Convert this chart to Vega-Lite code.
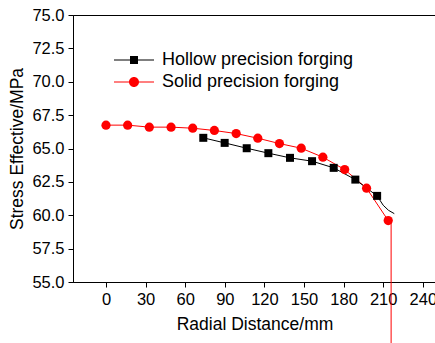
{
  "$schema": "https://vega.github.io/schema/vega-lite/v6.json",
  "autosize": {"type": "none"},
  "padding": {"left": 73, "top": 15, "right": 0, "bottom": 61},
  "width": 363,
  "height": 267,
  "background": "#ffffff",
  "config": {
    "font": "Liberation Sans",
    "view": {"stroke": "#000000", "strokeWidth": 1},
    "axis": {
      "grid": false,
      "domainColor": "#000000",
      "tickColor": "#000000",
      "labelColor": "#000000",
      "titleColor": "#000000",
      "labelFont": "Liberation Sans",
      "titleFont": "Liberation Sans",
      "labelFontSize": 16.5,
      "titleFontSize": 17.5,
      "titleFontWeight": "normal",
      "tickSize": 5,
      "labelPadding": 4
    }
  },
  "data": {
    "values": [
      {"series": "Solid precision forging", "x": 0, "y": 66.75, "measured": true},
      {"series": "Solid precision forging", "x": 16.4, "y": 66.75, "measured": true},
      {"series": "Solid precision forging", "x": 32.8, "y": 66.6, "measured": true},
      {"series": "Solid precision forging", "x": 49.3, "y": 66.6, "measured": true},
      {"series": "Solid precision forging", "x": 65.7, "y": 66.52, "measured": true},
      {"series": "Solid precision forging", "x": 82.1, "y": 66.35, "measured": true},
      {"series": "Solid precision forging", "x": 98.6, "y": 66.12, "measured": true},
      {"series": "Solid precision forging", "x": 115.0, "y": 65.77, "measured": true},
      {"series": "Solid precision forging", "x": 131.4, "y": 65.37, "measured": true},
      {"series": "Solid precision forging", "x": 147.9, "y": 65.02, "measured": true},
      {"series": "Solid precision forging", "x": 164.3, "y": 64.35, "measured": true},
      {"series": "Solid precision forging", "x": 180.8, "y": 63.42, "measured": true},
      {"series": "Solid precision forging", "x": 197.4, "y": 62.03, "measured": true},
      {"series": "Solid precision forging", "x": 213.8, "y": 59.6, "measured": true},
      {"series": "Solid precision forging", "x": 216.0, "y": 59.5, "measured": false},
      {"series": "Solid precision forging", "x": 216.0, "y": 45.0, "measured": false},
      {"series": "Hollow precision forging", "x": 73.7, "y": 65.8, "measured": true},
      {"series": "Hollow precision forging", "x": 89.9, "y": 65.42, "measured": true},
      {"series": "Hollow precision forging", "x": 106.6, "y": 65.02, "measured": true},
      {"series": "Hollow precision forging", "x": 123.0, "y": 64.65, "measured": true},
      {"series": "Hollow precision forging", "x": 139.4, "y": 64.3, "measured": true},
      {"series": "Hollow precision forging", "x": 156.1, "y": 64.05, "measured": true},
      {"series": "Hollow precision forging", "x": 172.5, "y": 63.55, "measured": true},
      {"series": "Hollow precision forging", "x": 188.9, "y": 62.67, "measured": true},
      {"series": "Hollow precision forging", "x": 205.4, "y": 61.45, "measured": true},
      {"series": "Hollow precision forging", "x": 210.0, "y": 60.75, "measured": false},
      {"series": "Hollow precision forging", "x": 214.0, "y": 60.37, "measured": false},
      {"series": "Hollow precision forging", "x": 218.4, "y": 60.12, "measured": false}
    ]
  },
  "encoding": {
    "x": {
      "field": "x",
      "type": "quantitative",
      "scale": {"domain": [-25, 250], "nice": false, "zero": false},
      "axis": {"values": [0, 30, 60, 90, 120, 150, 180, 210, 240], "title": "Radial Distance/mm", "titlePadding": 8}
    },
    "y": {
      "field": "y",
      "type": "quantitative",
      "scale": {"domain": [55, 75], "nice": false, "zero": false},
      "axis": {"values": [55, 57.5, 60, 62.5, 65, 67.5, 70, 72.5, 75], "format": ".1f", "title": "Stress Effective/MPa", "titlePadding": 5}
    }
  },
  "resolve": {"legend": {"color": "independent", "shape": "independent", "size": "independent"}},
  "layer": [
    {
      "mark": {"type": "line", "strokeWidth": 1, "interpolate": "linear"},
      "encoding": {
        "detail": {"field": "series"},
        "order": {"field": "x"},
        "color": {
          "field": "series",
          "type": "nominal",
          "scale": {"domain": ["Hollow precision forging", "Solid precision forging"], "range": ["#000000", "#ff0000"]},
          "legend": {
            "title": null,
            "orient": "none",
            "legendX": 51,
            "legendY": 35,
            "padding": 0,
            "symbolSize": 400,
            "labelFontSize": 18,
            "labelColor": "#000000",
            "labelOffset": 18,
            "labelLimit": 0,
            "rowPadding": 3,
            "symbolStrokeWidth": 0,
            "encode": {
              "symbols": {
                "update": {
                  "shape": [
                    {"test": "datum.value === 'Hollow precision forging'", "value": "M-2,-0.05H2V0.05H-2ZM-0.4,-0.4H0.4V0.4H-0.4Z"},
                    {"value": "M-2,-0.05H2V0.05H-2ZM-0.5,0A0.5,0.5,0,1,1,0.5,0A0.5,0.5,0,1,1,-0.5,0Z"}
                  ],
                  "fill": [
                    {"test": "datum.value === 'Hollow precision forging'", "value": "#000000"},
                    {"value": "#ff0000"}
                  ],
                  "fillOpacity": {"value": 1}
                }
              }
            }
          }
        }
      }
    },
    {
      "transform": [{"filter": "datum.measured"}],
      "mark": {"type": "point", "filled": true, "opacity": 1},
      "encoding": {
        "shape": {
          "field": "series",
          "type": "nominal",
          "scale": {"domain": ["Hollow precision forging", "Solid precision forging"], "range": ["square", "circle"]},
          "legend": null
        },
        "size": {
          "field": "series",
          "type": "nominal",
          "scale": {"domain": ["Hollow precision forging", "Solid precision forging"], "range": [64, 85]},
          "legend": null
        },
        "color": {
          "field": "series",
          "type": "nominal",
          "scale": {"domain": ["Hollow precision forging", "Solid precision forging"], "range": ["#000000", "#ff0000"]},
          "legend": null
        }
      }
    }
  ]
}
